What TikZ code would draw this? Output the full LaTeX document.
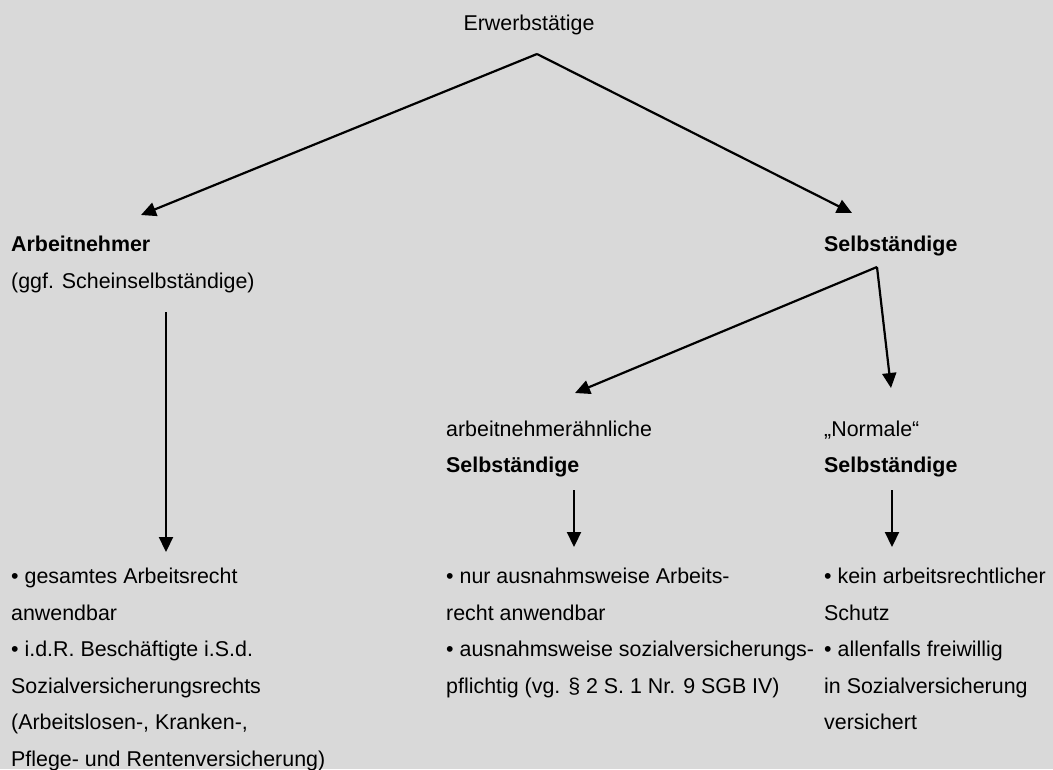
\documentclass[tikz,border=0pt]{standalone}
\usepackage{fontspec}
\setmainfont{Liberation Sans}
\usetikzlibrary{arrows.meta}
\definecolor{bg}{RGB}{217,217,217}
\begin{document}
\begin{tikzpicture}[x=1pt,y=-1pt,
  txt/.style={anchor=base west, inner sep=0pt, font=\fontsize{21.4}{25}\selectfont},
  btxt/.style={anchor=base west, inner sep=0pt, font=\fontsize{21.4}{25}\selectfont\bfseries},
  arr/.style={line width=2.2pt, -{Triangle[length=15pt,width=14pt]}}]
\fill[bg] (0,0) rectangle (1053,769);
\useasboundingbox (0,0) rectangle (1053,769);
% top
\node[txt, anchor=base] (erw) at (529,30) {Erwerbstätige};
\coordinate (apex1) at (537,54);
% level 2
\node[btxt] (an) at (11,251) {Arbeitnehmer};
\node[txt] (an2) at (11,288) {(ggf. Scheinselbständige)};
\node[btxt] (sel) at (824,251) {Selbständige};
\coordinate (anin) at (141,215);
\coordinate (selin) at (852,213);
\draw[arr] (apex1) -- (anin);
\draw[arr] (apex1) -- (selin);
% level 3
\coordinate (apex2) at (877,267);
\node[txt] (ae1) at (446,436) {arbeitnehmerähnliche};
\node[btxt] (ae2) at (446,472) {Selbständige};
\node[txt] (no1) at (824,436) {„Normale“};
\node[btxt] (no2) at (824,472) {Selbständige};
\coordinate (aein) at (575,393);
\coordinate (noin) at (891,388);
\draw[arr] (apex2) -- (aein);
\draw[arr] (apex2) -- (noin);
% lists
\foreach \t [count=\i] in {{• gesamtes Arbeitsrecht},{anwendbar},{• i.d.R. Beschäftigte i.S.d.},{Sozialversicherungsrechts},{(Arbeitslosen-, Kranken-,},{Pflege- und Rentenversicherung)}}
  \node[txt] (l\i) at (11,{583.5+36.6*(\i-1)}) {\t};
\foreach \t [count=\i] in {{• nur ausnahmsweise Arbeits-},{recht anwendbar},{• ausnahmsweise sozialversicherungs-},{pflichtig (vg. § 2 S. 1 Nr. 9 SGB IV)}}
  \node[txt] (m\i) at (446,{583.5+36.6*(\i-1)}) {\t};
\foreach \t [count=\i] in {{• kein arbeitsrechtlicher},{Schutz},{• allenfalls freiwillig},{in Sozialversicherung},{versichert}}
  \node[txt] (r\i) at (824,{583.5+36.6*(\i-1)}) {\t};
% vertical arrows
\coordinate (lv0) at (166,312);
\coordinate (lv1) at (166,552);
\draw[arr] (lv0) -- (lv1);
\coordinate (mv0) at (574,490);
\coordinate (mv1) at (574,547);
\draw[arr] (mv0) -- (mv1);
\coordinate (rv0) at (892,490);
\coordinate (rv1) at (892,547);
\draw[arr] (rv0) -- (rv1);
\end{tikzpicture}
\end{document}
